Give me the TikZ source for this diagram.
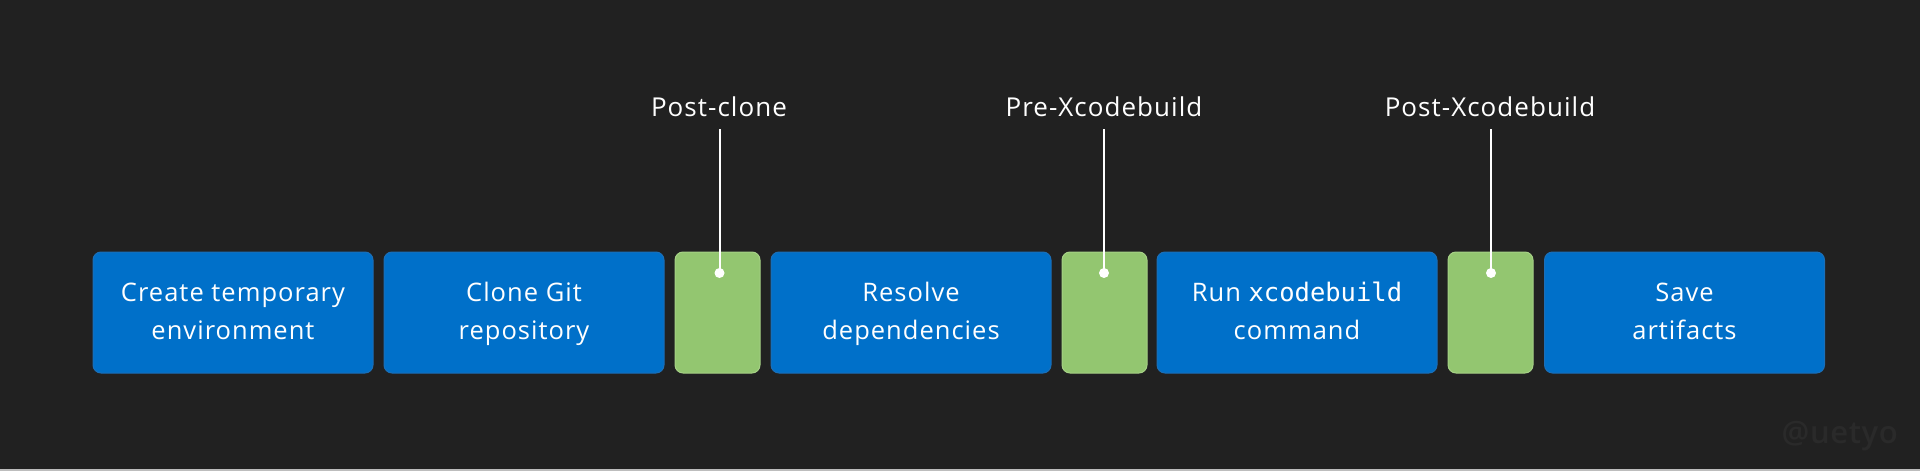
\documentclass[tikz,border=0pt]{standalone}
\usepackage{fontspec}
\setmainfont{Open Sans}[LetterSpace=4]
\newfontfamily\monofont{DejaVu Sans Mono}
\newfontfamily\wmfont{Open Sans}[BoldFont={* Semibold},LetterSpace=2]
\definecolor{bgc}{HTML}{212121}
\definecolor{bluec}{HTML}{0070C9}
\definecolor{blueb}{HTML}{1B6FB8}
\definecolor{greenc}{HTML}{93C670}
\definecolor{greenb}{HTML}{A6D186}
\definecolor{stripc}{HTML}{BDBDBD}
\definecolor{wmc}{HTML}{2A2A2A}
\begin{document}
\begin{tikzpicture}[x=1pt,y=-1pt,
  stage/.style={rectangle, rounded corners=8pt, fill=bluec, draw=blueb, line width=1pt,
    minimum width=280pt, minimum height=121pt, inner sep=0pt, align=center,
    text=white, font=\fontsize{25.5}{38}\selectfont},
  hookbox/.style={rectangle, rounded corners=8pt, fill=greenc, draw=greenb, line width=1pt,
    minimum width=85pt, minimum height=121pt, inner sep=0pt},
  hooklabel/.style={anchor=base, text=white, inner sep=0pt, font=\fontsize{26}{30}\selectfont},
  dotmark/.style={circle, fill=white, minimum size=10pt, inner sep=0pt},
  conn/.style={draw=white, line width=2pt}]
\fill[bgc] (0,0) rectangle (1920,471);
\useasboundingbox (0,0) rectangle (1920,471);
\fill[stripc] (0,469) rectangle (1920,471);

\node[stage] (s1) at (233,312.5) {Create temporary\strut\\environment\strut};
\node[stage] (s2) at (524,312.5) {Clone Git\strut\\repository\strut};
\node[hookbox] (g1) at (717.5,312.5) {};
\node[stage] (s3) at (911,312.5) {Resolve\strut\\dependencies\strut};
\node[hookbox] (g2) at (1104.5,312.5) {};
\node[stage] (s4) at (1297,312.5) {Run {\monofont xcodebuild}\strut\\command\strut};
\node[hookbox] (g3) at (1490.5,312.5) {};
\node[stage] (s5) at (1684.5,312.5) {Save\strut\\artifacts\strut};

\node[hooklabel] (h1) at (719,116) {Post-clone};
\node[hooklabel] (h2) at (1104,116) {Pre-Xcodebuild};
\node[hooklabel] (h3) at (1490,116) {Post-Xcodebuild};

\node[dotmark] (d1) at (719.5,273) {};
\node[dotmark] (d2) at (1104,273) {};
\node[dotmark] (d3) at (1491,273) {};
\coordinate (t1) at (719.5,129);
\coordinate (t2) at (1104,129);
\coordinate (t3) at (1491,129);
\draw[conn] (t1) -- (d1.center);
\draw[conn] (t2) -- (d2.center);
\draw[conn] (t3) -- (d3.center);

\node[text=wmc, anchor=base east, inner sep=0pt, font=\fontsize{31}{31}\selectfont\wmfont\bfseries] (wm) at (1898,443) {@uetyo};
\end{tikzpicture}
\end{document}
